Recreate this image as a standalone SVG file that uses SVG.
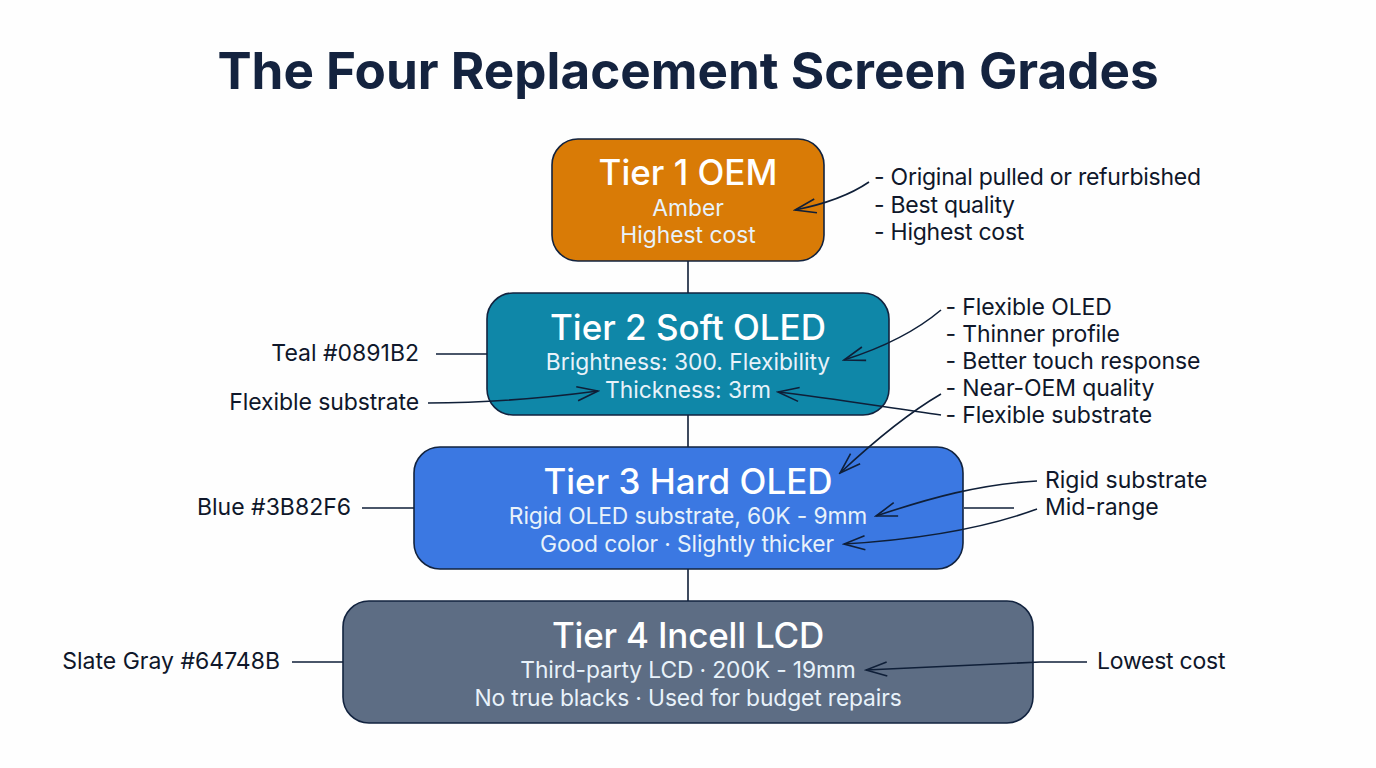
<svg xmlns="http://www.w3.org/2000/svg" width="1376" height="768" viewBox="0 0 1376 768">
<defs>
<marker id="arr" markerUnits="userSpaceOnUse" markerWidth="26" markerHeight="20" refX="24" refY="10" orient="auto"><path d="M3,3 L24,10 L3,17" fill="none" stroke="#0f1f38" stroke-width="1.6"/></marker>
</defs>
<style>
text{font-family:Inter,"Liberation Sans",sans-serif}
.box{stroke:#12233f;stroke-width:1.6}
.t{font-size:35px;font-weight:500;fill:#fff;text-anchor:middle}
.s{font-size:22.8px;fill:#e8f2fa;text-anchor:middle}
.s2{letter-spacing:-0.12px}
.n{font-size:23px;fill:#0f172a}
.n1{letter-spacing:-0.25px}
.n2{letter-spacing:-0.1px}
.e{text-anchor:end}
.c{fill:none;stroke:#0f1f38;stroke-width:1.6}
.a{marker-end:url(#arr)}
</style>
<rect width="1376" height="768" fill="#fefefe"/>
<text x="688" y="89" text-anchor="middle" style="font-size:51.2px;font-weight:650;fill:#14233f">The Four Replacement Screen Grades</text>
<g id="trunk" class="c"><path d="M688,261V293M688,415V447M688,569V601"/></g>
<g id="tier1"><rect class="box" x="552" y="139" width="272" height="122" rx="26" fill="#d97b06"/><text class="t" x="688" y="184.5">Tier 1 OEM</text><text class="s" x="688" y="216">Amber</text><text class="s" x="688" y="243">Highest cost</text></g>
<g id="tier2"><rect class="box" x="487" y="293" width="402" height="122" rx="26" fill="#0f87a8"/><text class="t" x="688" y="339.5">Tier 2 Soft OLED</text><text class="s" x="688" y="370">Brightness: 300. Flexibility</text><text class="s" x="688" y="398">Thickness: 3rm</text></g>
<g id="tier3"><rect class="box" x="414" y="447" width="549" height="122" rx="26" fill="#3b78e2"/><text class="t" x="688" y="493.5">Tier 3 Hard OLED</text><text class="s s2" x="688" y="524">Rigid OLED substrate, 60K - 9mm</text><text class="s s2" x="687" y="552">Good color · Slightly thicker</text></g>
<g id="tier4"><rect class="box" x="343" y="601" width="690" height="122" rx="26" fill="#5d6d84"/><text class="t" x="688" y="647.5" style="letter-spacing:-0.2px">Tier 4 Incell LCD</text><text class="s s2" x="688" y="678">Third-party LCD · 200K - 19mm</text><text class="s s2" x="688" y="706">No true blacks · Used for budget repairs</text></g>
<g id="connectors" class="c">
<path class="a" d="M869,182C850,195 825,204 795,210"/>
<path class="a" d="M941,310C915,332 885,347 844,360"/>
<path class="a" d="M941,415C890,408 830,398 778,392"/>
<path class="a" d="M941,394C905,415 870,445 840,473"/>
<path class="a" d="M1037,481C980,484 930,498 876,516"/>
<path class="a" d="M1037,509C980,530 910,540 844,544"/>
<path d="M964,508H1014"/>
<path class="a" d="M1087,662H1040L866,670"/>
<path d="M436,354H487M362,508H414M292,662H343"/>
<path class="a" d="M428,403C490,403 545,398 598,391"/>
</g>
<g id="notes">
<g id="note1"><text class="n n1" x="874" y="185">- Original pulled or refurbished</text><text class="n n1" x="874" y="213">- Best quality</text><text class="n n1" x="874" y="240">- Highest cost</text></g>
<g id="note2"><text class="n n2" x="945.5" y="315">- Flexible OLED</text><text class="n n2" x="945.5" y="342">- Thinner profile</text><text class="n n2" x="945.5" y="369">- Better touch response</text><text class="n n2" x="945.5" y="396">- Near-OEM quality</text><text class="n n2" x="945.5" y="423">- Flexible substrate</text></g>
<g id="note3"><text class="n" x="1045" y="488">Rigid substrate</text><text class="n" x="1045" y="515">Mid-range</text></g>
<g id="note4"><text class="n n1" x="1097" y="669">Lowest cost</text></g>
<g id="left-labels"><text class="n e" x="419" y="361">Teal #0891B2</text><text class="n e n2" x="419" y="409.5">Flexible substrate</text><text class="n e" x="351" y="515">Blue #3B82F6</text><text class="n e" x="280" y="669">Slate Gray #64748B</text></g>
</g>
</svg>
